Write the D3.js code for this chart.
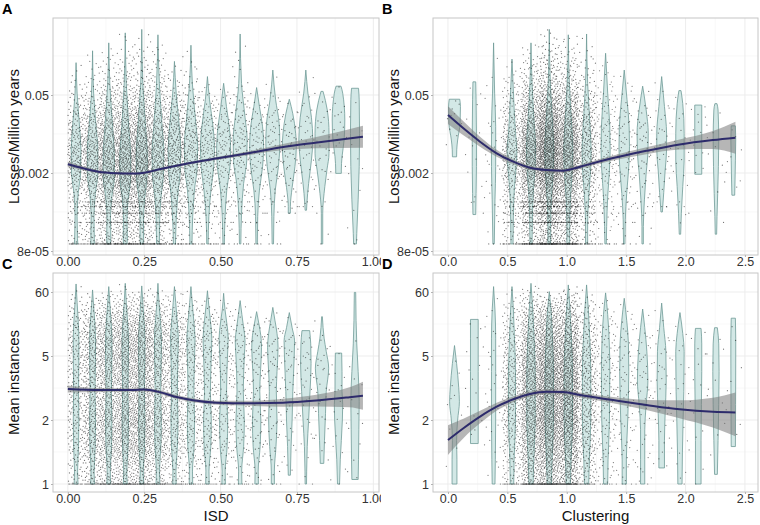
<!DOCTYPE html>
<html><head><meta charset="utf-8">
<script src="https://cdn.jsdelivr.net/npm/d3@7"></script>
<style>
body{margin:0;background:#fff}
svg{display:block}
text{font-family:"Liberation Sans",Arial,Helvetica,sans-serif}
</style></head>
<body><svg id="chart" width="760" height="525"></svg>
<script>
// ---------------- DATA ----------------
const isdTicks = [0, 0.25, 0.5, 0.75, 1.0];
const isdMinor = [0.125, 0.375, 0.625, 0.875];
const clusTicks = [0, 0.5, 1.0, 1.5, 2.0, 2.5];
const clusMinor = [0.25, 0.75, 1.25, 1.75, 2.25];
const lossTicks = [8e-5, 0.002, 0.05];
const lossTickLabels = ["8e-05", "0.002", "0.05"];
const lossMinor = [0.0004, 0.01, 0.25];
const instTicks = [1, 2, 5, 60];
const instTickLabels = ["1", "2", "5", "60"];
const instMinor = [1.414, 3.16, 17.3];

// violin centres (bins)
const isdBinX = [0.027,0.081,0.134,0.188,0.242,0.295,0.349,0.403,0.457,0.510,0.564,0.618,0.671,0.725,0.779,0.832,0.886,0.940];
const clusBinX = [0.055,0.222,0.384,0.539,0.699,0.853,1.013,1.167,1.327,1.484,1.639,1.799,1.953,2.107,2.256,2.402];
const isdBinWidth = 0.0537;
const clusBinWidth = 0.157;

// number of species points per bin (read from dot density)
const isdCounts = [280,460,650,760,700,560,380,270,200,155,125,95,75,55,40,30,18,12];
const clusCounts = [10,15,35,380,1000,1400,1150,420,160,95,60,40,25,15,10,8];

// discrete low-loss rows
const lossRows = [0.000107, 0.00026, 0.00038, 0.0005, 0.00061];
const lossRowWeights = [0.4, 0.15, 0.15, 0.15, 0.15];
const instRows = [1];
const instRowWeights = [1];

// violin profiles: [value, relative density]
const lossISDViolins = [
 [[0.19,0],[0.054,0.15],[0.0135,0.5],[0.0052,0.7],[0.002,0.65],[0.00086,0.3],[0.00033,0.15],[0.000135,0.2],[0.000107,0.25]],
 [[0.31,0],[0.054,0.15],[0.0135,0.5],[0.0052,0.75],[0.002,0.75],[0.00086,0.4],[0.00033,0.2],[0.000135,0.25],[0.000107,0.25]],
 [[0.43,0],[0.081,0.15],[0.0135,0.55],[0.0039,0.8],[0.0017,0.8],[0.00075,0.45],[0.00033,0.25],[0.000135,0.3],[0.000107,0.25]],
 [[0.65,0],[0.081,0.15],[0.0135,0.5],[0.0034,0.8],[0.0015,0.75],[0.00066,0.4],[0.00029,0.25],[0.000135,0.3],[0.000107,0.25]],
 [[0.75,0],[0.081,0.15],[0.0135,0.55],[0.0039,0.8],[0.0017,0.75],[0.00066,0.4],[0.00029,0.25],[0.000135,0.25],[0.000107,0.2]],
 [[0.6,0],[0.081,0.2],[0.0135,0.6],[0.0045,0.85],[0.002,0.8],[0.00075,0.45],[0.00029,0.25],[0.000107,0.2]],
 [[0.2,0],[0.054,0.25],[0.0135,0.7],[0.0052,0.9],[0.00226,0.85],[0.00086,0.5],[0.00029,0.25],[0.000107,0.15]],
 [[0.39,0],[0.081,0.2],[0.0178,0.65],[0.0059,0.95],[0.0026,0.9],[0.00099,0.5],[0.00033,0.25],[0.000107,0.15]],
 [[0.107,0],[0.041,0.3],[0.0135,0.8],[0.0059,1.0],[0.0026,0.9],[0.00099,0.5],[0.00033,0.2],[0.000107,0.1]],
 [[0.081,0],[0.031,0.4],[0.0103,0.9],[0.0052,1.0],[0.0026,0.9],[0.00099,0.45],[0.00033,0.2],[0.000107,0.1]],
 [[0.62,0],[0.081,0.2],[0.02,0.7],[0.0078,1.0],[0.0034,0.95],[0.0013,0.5],[0.00038,0.2],[0.000107,0.1]],
 [[0.068,0],[0.031,0.4],[0.0135,0.85],[0.0059,1.0],[0.0026,0.85],[0.00099,0.4],[0.00033,0.15],[0.000107,0.1]],
 [[0.14,0],[0.041,0.4],[0.0155,0.9],[0.0068,1.0],[0.0026,0.8],[0.00099,0.35],[0.00033,0.15],[0.000107,0.1]],
 [[0.042,0],[0.023,0.5],[0.0103,0.9],[0.0059,1.0],[0.0026,0.8],[0.0011,0.4],[0.0005,0.15],[0.00038,0.15]],
 [[0.14,0],[0.054,0.3],[0.02,0.8],[0.0078,1.0],[0.0034,0.8],[0.0013,0.4],[0.00057,0.15],[0.00043,0.1]],
 [[0.058,0.15],[0.027,0.75],[0.0103,1.0],[0.0045,1.0],[0.00226,0.7],[0.00114,0.4],[0.00038,0.1],[0.000107,0.1]],
 [[0.072,0.35],[0.054,0.6],[0.0178,0.9],[0.0078,0.8],[0.0039,0.5],[0.00226,0.4],[0.00197,0.4]],
 [[0.066,0.5],[0.041,0.6],[0.0103,0.65],[0.0026,0.6],[0.00066,0.45],[0.000166,0.25],[0.000107,0.2]]
];
const lossClusViolins = [
 [[0.042,0.75],[0.031,0.85],[0.0155,0.8],[0.0078,0.45],[0.0052,0.32],[0.0039,0.3]],
 [[0.086,0.2],[0.041,0.25],[0.0103,0.3],[0.0026,0.3],[0.00086,0.25],[0.00036,0.2]],
 [[0.43,0],[0.054,0.15],[0.0135,0.3],[0.0026,0.3],[0.00066,0.2],[0.000107,0.1]],
 [[0.22,0],[0.041,0.25],[0.0103,0.5],[0.0052,0.7],[0.0026,0.6],[0.0011,0.35],[0.00038,0.2],[0.000107,0.15]],
 [[0.43,0],[0.081,0.15],[0.02,0.4],[0.0052,0.65],[0.0026,0.6],[0.00099,0.35],[0.00033,0.2],[0.000107,0.15]],
 [[0.75,0],[0.081,0.15],[0.0135,0.5],[0.0052,0.65],[0.0026,0.6],[0.00066,0.3],[0.00022,0.2],[0.000107,0.2]],
 [[0.6,0],[0.081,0.15],[0.0135,0.5],[0.0052,0.65],[0.0026,0.6],[0.00066,0.3],[0.00022,0.2],[0.000107,0.2]],
 [[0.62,0],[0.081,0.15],[0.0135,0.5],[0.0052,0.65],[0.0026,0.6],[0.00075,0.3],[0.00025,0.15],[0.000107,0.15]],
 [[0.28,0],[0.054,0.3],[0.0135,0.6],[0.0052,0.65],[0.00226,0.55],[0.00075,0.3],[0.00022,0.15],[0.000107,0.1]],
 [[0.14,0],[0.041,0.4],[0.0135,0.7],[0.0059,0.75],[0.0026,0.65],[0.00086,0.35],[0.00029,0.15],[0.000107,0.1]],
 [[0.072,0],[0.027,0.5],[0.0103,0.8],[0.0045,0.75],[0.002,0.5],[0.00066,0.25],[0.00022,0.1],[0.000107,0.1]],
 [[0.107,0],[0.031,0.4],[0.0103,0.7],[0.0052,0.7],[0.00226,0.5],[0.0009,0.3],[0.0004,0.1]],
 [[0.06,0.15],[0.035,0.4],[0.0103,0.6],[0.0034,0.6],[0.00114,0.4],[0.00038,0.2],[0.00016,0.1]],
 [[0.033,0.5],[0.0019,0.5]],
 [[0.035,0.15],[0.027,0.3],[0.0078,0.4],[0.0026,0.35],[0.00086,0.25],[0.00033,0.15],[0.00016,0.1]],
 [[0.014,0.3],[0.0078,0.35],[0.0034,0.3],[0.0015,0.25],[0.0008,0.2]]
];
const instISDViolins = [
 [[82,0],[40,0.15],[20,0.3],[10,0.4],[5,0.4],[3,0.35],[2,0.4],[1.5,0.35],[1.15,0.22],[1,0.28]],
 [[65,0],[35,0.15],[20,0.3],[10,0.42],[5,0.42],[3,0.35],[2,0.42],[1.5,0.38],[1.15,0.22],[1,0.28]],
 [[74,0],[40,0.15],[20,0.32],[10,0.45],[5,0.45],[3,0.38],[2,0.45],[1.5,0.4],[1.15,0.22],[1,0.28]],
 [[84,0],[40,0.15],[20,0.32],[10,0.45],[5,0.45],[3,0.38],[2,0.45],[1.5,0.4],[1.15,0.22],[1,0.28]],
 [[76,0],[40,0.15],[20,0.32],[10,0.45],[5,0.45],[3,0.38],[2,0.45],[1.5,0.4],[1.15,0.22],[1,0.28]],
 [[84,0],[40,0.15],[20,0.35],[10,0.5],[5,0.48],[3,0.4],[2,0.48],[1.5,0.42],[1.15,0.22],[1,0.28]],
 [[74,0],[40,0.18],[20,0.38],[10,0.55],[5,0.5],[3,0.42],[2,0.5],[1.5,0.42],[1.15,0.22],[1,0.25]],
 [[74,0],[40,0.18],[20,0.4],[10,0.58],[5,0.52],[3,0.42],[2,0.52],[1.5,0.45],[1.15,0.22],[1,0.25]],
 [[63,0],[35,0.2],[20,0.42],[10,0.62],[5,0.55],[3,0.42],[2,0.55],[1.5,0.48],[1.15,0.22],[1,0.25]],
 [[57,0],[30,0.2],[18,0.45],[10,0.65],[5,0.55],[3,0.42],[2,0.58],[1.5,0.5],[1.15,0.22],[1,0.25]],
 [[43,0],[25,0.25],[15,0.5],[9,0.7],[5,0.6],[3,0.45],[2,0.6],[1.5,0.5],[1.15,0.22],[1,0.25]],
 [[28,0],[18,0.3],[11,0.6],[7,0.7],[4,0.55],[3,0.45],[2,0.6],[1.5,0.5],[1.15,0.22],[1,0.25]],
 [[33,0],[20,0.3],[12,0.6],[7,0.75],[4,0.6],[3,0.5],[2,0.6],[1.5,0.45],[1.15,0.22],[1,0.22]],
 [[27,0],[15,0.4],[9,0.75],[5,0.7],[3,0.5],[2,0.4],[1.5,0.25],[1.1,0.15]],
 [[13.4,0.55],[8,0.7],[4.5,0.75],[3,0.6],[2,0.4],[1.5,0.2],[1.15,0.12],[1,0.1]],
 [[23,0.05],[10,0.3],[6,0.6],[4.2,0.95],[3,0.6],[2.2,0.5],[1.6,0.35],[1.25,0.25]],
 [[5.6,0.45],[4,0.5],[3,0.5],[2.5,0.6],[2,0.55],[1.6,0.4],[1.3,0.25],[1,0.15]],
 [[59,0.1],[20,0.15],[8,0.25],[4,0.45],[2.6,0.6],[1.8,0.55],[1.3,0.5],[1.05,0.45]]
];
const instClusViolins = [
 [[7.5,0],[4.5,0.3],[3.2,0.6],[2.6,0.7],[2,0.45],[1.6,0.3],[1.3,0.35],[1,0.35]],
 [[20.7,0.55],[10,0.55],[4,0.55],[2,0.55],[1.55,0.55]],
 [[74,0],[30,0.2],[10,0.3],[4,0.3],[2,0.3],[1.3,0.25],[1,0.2]],
 [[74,0],[30,0.2],[10,0.35],[4,0.5],[2,0.5],[1.3,0.3],[1,0.25]],
 [[84,0],[30,0.25],[10,0.45],[4,0.6],[2,0.6],[1.3,0.4],[1,0.3]],
 [[61,0],[30,0.25],[10,0.45],[4,0.6],[2,0.6],[1.3,0.4],[1,0.3]],
 [[79,0],[30,0.25],[10,0.45],[4,0.6],[2,0.6],[1.3,0.4],[1,0.3]],
 [[79,0],[30,0.25],[10,0.45],[4,0.6],[2,0.6],[1.3,0.4],[1,0.3]],
 [[58,0],[25,0.3],[10,0.5],[4,0.6],[2,0.55],[1.3,0.35],[1,0.3]],
 [[47,0],[20,0.35],[8,0.6],[4,0.65],[2,0.5],[1.3,0.3],[1,0.3]],
 [[31,0],[15,0.3],[6,0.6],[3.5,0.75],[2.5,0.5],[1.8,0.3],[1.3,0.3],[1,0.3]],
 [[39,0],[15,0.3],[6,0.6],[3.5,0.65],[2.2,0.5],[1.6,0.4],[1.19,0.4]],
 [[27,0],[12,0.4],[6,0.6],[3,0.55],[2,0.45],[1.4,0.35],[1,0.3]],
 [[14.6,0.4],[8,0.5],[4,0.5],[2.5,0.45],[1.6,0.4],[1,0.4]],
 [[15,0.2],[8,0.4],[4,0.45],[2.5,0.4],[1.6,0.3],[1.11,0.2]],
 [[21.7,0.3],[10,0.35],[5,0.35],[2.5,0.33],[1.5,0.3]]
];

// loess fits (value) and half-width of confidence band (log10 units)
const smoothISDx = [0, 0.05, 0.1, 0.16, 0.21, 0.25, 0.3, 0.38, 0.49, 0.6, 0.7, 0.81, 0.966];
const lossISDFit = [0.00287, 0.00243, 0.00211, 0.00198, 0.00195, 0.00202, 0.00233, 0.00287, 0.00366, 0.00462, 0.00578, 0.00698, 0.00895];
const lossISDse = [0.045, 0.036, 0.027, 0.023, 0.022, 0.022, 0.022, 0.023, 0.027, 0.036, 0.054, 0.099, 0.197];
const smoothClusX = [0, 0.13, 0.27, 0.41, 0.55, 0.69, 0.83, 0.97, 1.06, 1.17, 1.39, 1.67, 1.95, 2.23, 2.42];
const lossClusFit = [0.0219, 0.01265, 0.00728, 0.00451, 0.00319, 0.00249, 0.00226, 0.0022, 0.0024, 0.0028, 0.0037, 0.0050, 0.0065, 0.0078, 0.0086];
const lossClusSe = [0.161, 0.125, 0.09, 0.063, 0.045, 0.036, 0.036, 0.036, 0.036, 0.036, 0.045, 0.063, 0.09, 0.161, 0.287];
const smoothISDx2 = [0, 0.105, 0.214, 0.247, 0.301, 0.356, 0.41, 0.487, 0.595, 0.704, 0.813, 0.922, 0.966];
const instISDFit = [3.12, 3.07, 3.07, 3.09, 2.98, 2.78, 2.65, 2.56, 2.54, 2.56, 2.64, 2.77, 2.83];
const instISDse = [0.022, 0.0124, 0.0112, 0.0112, 0.0112, 0.0124, 0.0124, 0.0124, 0.0155, 0.025, 0.037, 0.062, 0.087];
const smoothClusX2 = [0, 0.13, 0.27, 0.41, 0.55, 0.69, 0.83, 0.97, 1.11, 1.39, 1.67, 1.95, 2.23, 2.42];
const instClusFit = [1.61, 1.83, 2.10, 2.42, 2.69, 2.90, 3.0, 2.99, 2.86, 2.66, 2.48, 2.33, 2.25, 2.23];
const instClusSe = [0.07, 0.047, 0.037, 0.025, 0.019, 0.0155, 0.0155, 0.0155, 0.0155, 0.019, 0.031, 0.056, 0.087, 0.124];

// ---------------- DRAWING ----------------
const svg = d3.select("#chart");
const C = {
  grid: "#ebebeb", minor: "#f4f4f4", border: "#c6c6c6",
  vFill: "#d3e8e6", vStroke: "#6f9a97", dot: "#151515",
  band: "#7a7a7a", line: "#2d2b6b", text: "#333333"
};

const xISD = d3.scaleLinear().domain([-0.0485, 1.0185]).range([53, 379]);
const xClus = d3.scaleLinear().domain([-0.126, 2.61]).range([433, 758]);
const yLoss = d3.scaleLog().domain([8e-5, 0.05]).range([251, 95]);
const yInst = d3.scaleLog().domain([1, 2, 5, 60]).range([484, 420, 356, 292]);
const widthScale = d3.scaleLinear().domain([0, 1]).range([0, 7]);

const panels = [
 {id:"A", box:[53,18,379,255], x:xISD, y:yLoss, xt:isdTicks, xm:isdMinor, xf:d3.format(".2f"),
  yt:lossTicks, yl:lossTickLabels, ym:lossMinor, bins:isdBinX, bw:isdBinWidth, vio:lossISDViolins, cnt:isdCounts,
  rows:lossRows, rw:lossRowWeights, rowShare:0.1, sx:smoothISDx, sy:lossISDFit, se:lossISDse,
  ytitle:"Losses/Million years", xtitle:null, clip:381},
 {id:"B", box:[433,18,758,255], x:xClus, y:yLoss, xt:clusTicks, xm:clusMinor, xf:d3.format(".1f"),
  yt:lossTicks, yl:lossTickLabels, ym:lossMinor, bins:clusBinX, bw:clusBinWidth, vio:lossClusViolins, cnt:clusCounts,
  rows:lossRows, rw:lossRowWeights, rowShare:0.1, sx:smoothClusX, sy:lossClusFit, se:lossClusSe,
  ytitle:"Losses/Million years", xtitle:null, clip:760},
 {id:"C", box:[53,273,379,492], x:xISD, y:yInst, xt:isdTicks, xm:isdMinor, xf:d3.format(".2f"),
  yt:instTicks, yl:instTickLabels, ym:instMinor, bins:isdBinX, bw:isdBinWidth, vio:instISDViolins, cnt:isdCounts,
  rows:instRows, rw:instRowWeights, rowShare:0.04, sx:smoothISDx2, sy:instISDFit, se:instISDse,
  ytitle:"Mean instances", xtitle:"ISD", clip:381},
 {id:"D", box:[433,273,758,492], x:xClus, y:yInst, xt:clusTicks, xm:clusMinor, xf:d3.format(".1f"),
  yt:instTicks, yl:instTickLabels, ym:instMinor, bins:clusBinX, bw:clusBinWidth, vio:instClusViolins, cnt:clusCounts,
  rows:instRows, rw:instRowWeights, rowShare:0.04, sx:smoothClusX2, sy:instClusFit, se:instClusSe,
  ytitle:"Mean instances", xtitle:"Clustering", clip:760}
];

// deterministic low-discrepancy (Halton) positions for the jittered dots
function halton(i, b) { let f = 1, r = 0; while (i > 0) { f /= b; r += f * (i % b); i = Math.floor(i / b); } return r; }

const defs = svg.append("defs");

panels.forEach((p) => {
  const [x0, y0, x1, y1] = p.box;
  defs.append("clipPath").attr("id", "pc" + p.id).append("rect")
     .attr("x", x0).attr("y", y0).attr("width", x1 - x0).attr("height", y1 - y0);
  defs.append("clipPath").attr("id", "oc" + p.id).append("rect")
     .attr("x", p.clip - 381).attr("y", 0).attr("width", 381).attr("height", 525);
  const g = svg.append("g").attr("clip-path", `url(#oc${p.id})`);
  g.append("rect").attr("x", x0).attr("y", y0).attr("width", x1 - x0).attr("height", y1 - y0).attr("fill", "#fff");
  const grid = g.append("g").attr("clip-path", `url(#pc${p.id})`);
  p.xm.forEach(v => grid.append("line").attr("x1", p.x(v)).attr("x2", p.x(v)).attr("y1", y0).attr("y2", y1).attr("stroke", C.minor).attr("stroke-width", 0.6));
  p.ym.forEach(v => grid.append("line").attr("y1", p.y(v)).attr("y2", p.y(v)).attr("x1", x0).attr("x2", x1).attr("stroke", C.minor).attr("stroke-width", 0.6));
  p.xt.forEach(v => grid.append("line").attr("x1", p.x(v)).attr("x2", p.x(v)).attr("y1", y0).attr("y2", y1).attr("stroke", C.grid).attr("stroke-width", 0.9));
  p.yt.forEach(v => grid.append("line").attr("y1", p.y(v)).attr("y2", p.y(v)).attr("x1", x0).attr("x2", x1).attr("stroke", C.grid).attr("stroke-width", 0.9));

  const plot = g.append("g").attr("clip-path", `url(#pc${p.id})`);
  p.vio.forEach((prof, i) => {
    const cx = p.x(p.bins[i]);
    const a = d3.area().curve(d3.curveMonotoneY)
      .y(d => p.y(d[0]))
      .x0(d => cx - widthScale(d[1]))
      .x1(d => cx + widthScale(d[1]));
    plot.append("path").attr("d", a(prof)).attr("fill", C.vFill).attr("stroke", C.vStroke).attr("stroke-width", 0.8);
  });
  const dots = plot.append("g").attr("fill", C.dot).attr("fill-opacity", 0.58);
  p.vio.forEach((prof, i) => {
    const n = p.cnt[i];
    const pts = prof.map(d => [p.y(d[0]), d[1]]).sort((a, b) => a[0] - b[0]);
    const top = pts[0][0], bot = pts[pts.length - 1][0];
    const py = [], cum = [];
    let acc = 0;
    for (let yy = top; yy <= bot; yy += 0.25) {
      let k = 0;
      while (k < pts.length - 2 && pts[k + 1][0] < yy) k++;
      const [ya, da] = pts[k], [yb, db] = pts[k + 1];
      const t = yb === ya ? 0 : (yy - ya) / (yb - ya);
      acc += Math.max(0.03, da + (db - da) * t);
      py.push(yy); cum.push(acc);
    }
    const total = acc;
    const minV = d3.min(prof, d => d[0]);
    const rowLevels = p.rows.map((v, j) => [v, p.rw[j]]).filter(r => r[0] >= minV * 0.999);
    const rowW = d3.sum(rowLevels, r => r[1]);
    const nRow = rowLevels.length ? Math.round(n * p.rowShare) : 0;
    const base = 1 + i * 733;
    for (let k = 0; k < n; k++) {
      const fx = halton(base + k, 2);
      const fy = halton(base + k, 3);
      const xv = p.bins[i] + (fx - 0.5) * p.bw;
      let yp;
      if (k < nRow) {
        let u = fy * rowW, j = 0;
        while (j < rowLevels.length - 1 && u > rowLevels[j][1]) { u -= rowLevels[j][1]; j++; }
        yp = p.y(rowLevels[j][0]);
      } else {
        const target = fy * total;
        const idx = Math.min(py.length - 1, d3.bisectLeft(cum, target));
        yp = py[idx];
      }
      dots.append("circle").attr("cx", p.x(xv)).attr("cy", yp).attr("r", 0.62);
    }
  });
  const pairs = p.sx.map((xv, i) => [xv, p.sy[i], p.se[i]]);
  const band = d3.area().curve(d3.curveMonotoneX)
      .x(d => p.x(d[0]))
      .y0(d => p.y(d[1] / Math.pow(10, d[2])))
      .y1(d => p.y(d[1] * Math.pow(10, d[2])));
  plot.append("path").attr("d", band(pairs)).attr("fill", C.band).attr("fill-opacity", 0.55);
  const line = d3.line().curve(d3.curveMonotoneX).x(d => p.x(d[0])).y(d => p.y(d[1]));
  plot.append("path").attr("d", line(pairs)).attr("fill", "none").attr("stroke", C.line).attr("stroke-width", 2);

  g.append("rect").attr("x", x0).attr("y", y0).attr("width", x1 - x0).attr("height", y1 - y0)
    .attr("fill", "none").attr("stroke", C.border).attr("stroke-width", 1);

  const ax = g.append("g").attr("transform", `translate(0,${y1})`)
    .call(d3.axisBottom(p.x).tickValues(p.xt).tickFormat(p.xf).tickSize(2).tickPadding(0.5));
  const ay = g.append("g").attr("transform", `translate(${x0},0)`)
    .call(d3.axisLeft(p.y).tickValues(p.yt).tickFormat((d, i) => p.yl[i]).tickSize(2).tickPadding(2));
  [ax, ay].forEach(a => {
    a.select(".domain").remove();
    a.selectAll(".tick line").attr("stroke", "#b3b3b3");
    a.selectAll(".tick text").attr("fill", C.text).style("font-size", "12.5px")
      .style("font-family", '"Liberation Sans",Arial,sans-serif');
  });

  svg.append("text").attr("transform", `translate(${x0 - 40},${(y0 + y1) / 2}) rotate(-90)`)
    .attr("text-anchor", "middle").attr("dominant-baseline", "central")
    .attr("fill", "#111").style("font-size", "15px").text(p.ytitle);
  if (p.xtitle) {
    svg.append("text").attr("x", (x0 + x1) / 2).attr("y", 521).attr("text-anchor", "middle")
      .attr("fill", "#111").style("font-size", "15px").text(p.xtitle);
  }
  svg.append("text").attr("x", x0 - 51).attr("y", y0 - 4).attr("fill", "#000")
    .style("font-size", "14.5px").style("font-weight", "bold").text(p.id);
});
</script>
</body></html>
